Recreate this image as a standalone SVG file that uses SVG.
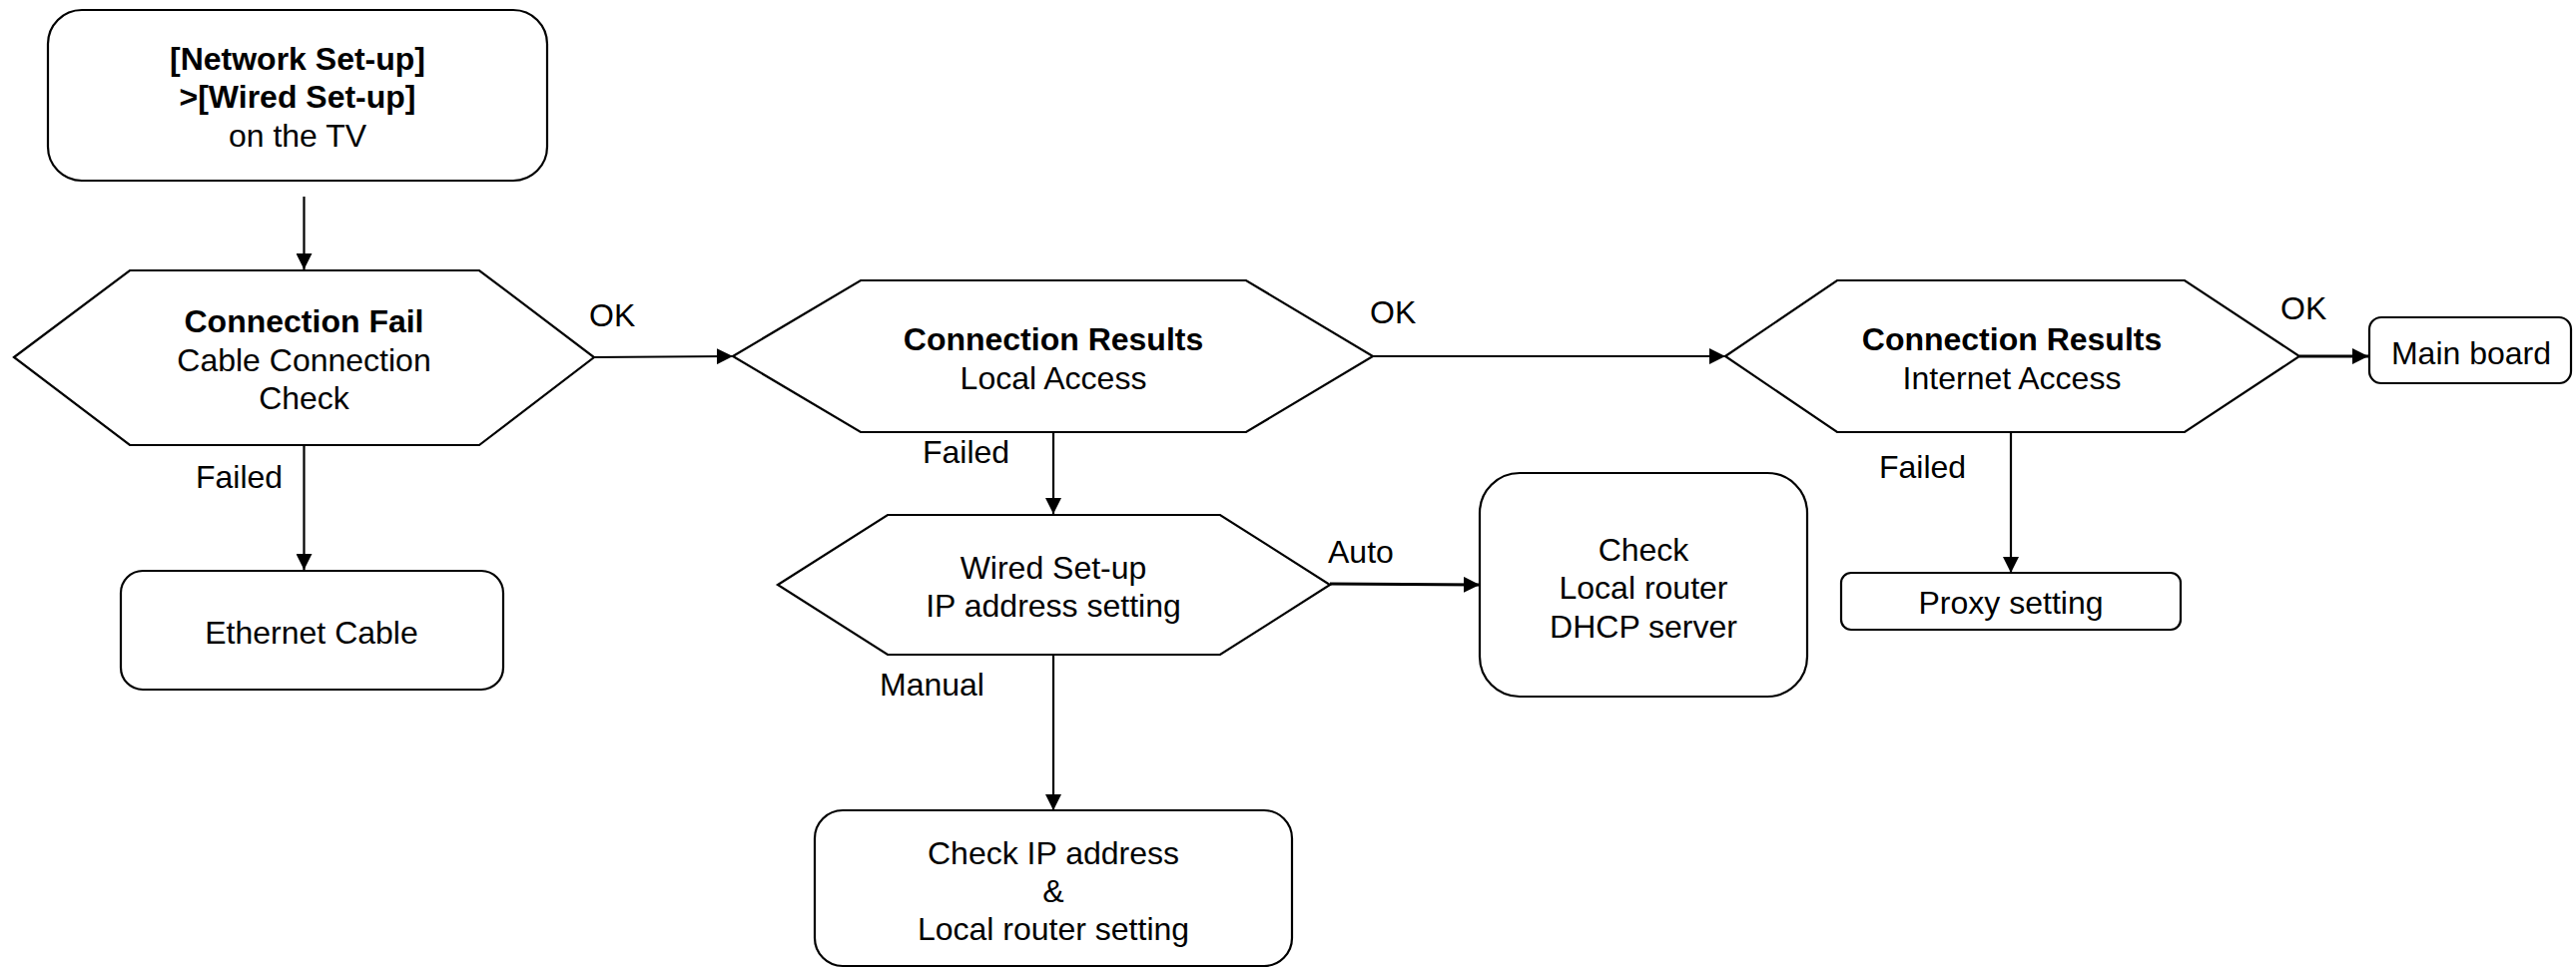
<svg xmlns="http://www.w3.org/2000/svg" width="2580" height="970" viewBox="0 0 2580 970">
<style>
.shape{fill:#fff;stroke:#000;stroke-width:2.2}
.t{font-family:"Liberation Sans",Arial,sans-serif;font-size:32px;fill:#000}
.c{text-anchor:middle}
.b{font-weight:bold}
.ln{stroke:#000;stroke-width:2.2;fill:none}
.thick{stroke-width:3}
</style>
<defs>
<marker id="ah" viewBox="0 0 16 16" refX="16" refY="8" markerWidth="16" markerHeight="16" markerUnits="userSpaceOnUse" orient="auto">
<path d="M0,0 L16,8 L0,16 Z" fill="#000"/>
</marker>
</defs>
<rect width="2580" height="970" fill="#fff"/>
<g id="connectors">
<line class="ln" x1="304.5" y1="197" x2="304.5" y2="270" marker-end="url(#ah)"/>
<line class="ln" x1="304.5" y1="446" x2="304.5" y2="571" marker-end="url(#ah)"/>
<line class="ln" x1="595" y1="358" x2="734" y2="357" marker-end="url(#ah)"/>
<line class="ln" x1="1055" y1="433" x2="1055" y2="515" marker-end="url(#ah)"/>
<line class="ln" x1="1375" y1="357" x2="1728" y2="357" marker-end="url(#ah)"/>
<line class="ln thick" x1="1332" y1="585" x2="1482" y2="586" marker-end="url(#ah)"/>
<line class="ln" x1="1055" y1="656" x2="1055" y2="812" marker-end="url(#ah)"/>
<line class="ln thick" x1="2303" y1="357" x2="2372" y2="357" marker-end="url(#ah)"/>
<line class="ln" x1="2014" y1="433" x2="2014" y2="574" marker-end="url(#ah)"/>
<text class="t" x="590" y="326.5">OK</text>
<text class="t" x="1372" y="323.5">OK</text>
<text class="t" x="2284" y="319.5">OK</text>
<text class="t" x="196" y="488.5">Failed</text>
<text class="t" x="924" y="463.5">Failed</text>
<text class="t" x="1882" y="478.5">Failed</text>
<text class="t" x="1330" y="563.5">Auto</text>
<text class="t" x="881" y="696.5">Manual</text>
</g>
<g id="start">
<rect class="shape" x="48" y="10" width="500" height="171" rx="34" ry="34"/>
<text class="t c b" x="298" y="69.5">[Network Set-up]</text>
<text class="t c b" x="298" y="107.5">&gt;[Wired Set-up]</text>
<text class="t c" x="298" y="146.5">on the TV</text>
</g>
<g id="conn-fail">
<polygon class="shape" points="14,358 130,271 480,271 595,358 480,446 130,446"/>
<text class="t c b" x="304.5" y="332.5">Connection Fail</text>
<text class="t c" x="304.5" y="371.5">Cable Connection</text>
<text class="t c" x="304.5" y="409.5">Check</text>
</g>
<g id="ethernet">
<rect class="shape" x="121" y="572" width="383" height="119" rx="22" ry="22"/>
<text class="t c" x="312" y="644.5">Ethernet Cable</text>
</g>
<g id="local-access">
<polygon class="shape" points="734,357 862,281 1248,281 1375,357 1248,433 862,433"/>
<text class="t c b" x="1055" y="350.5">Connection Results</text>
<text class="t c" x="1055" y="389.5">Local Access</text>
</g>
<g id="ip-setting">
<polygon class="shape" points="779,586 889,516 1222,516 1332,586 1222,656 889,656"/>
<text class="t c" x="1055" y="579.5">Wired Set-up</text>
<text class="t c" x="1055" y="617.5">IP address setting</text>
</g>
<g id="dhcp">
<rect class="shape" x="1482" y="474" width="328" height="224" rx="40" ry="40"/>
<text class="t c" x="1646" y="561.5">Check</text>
<text class="t c" x="1646" y="599.5">Local router</text>
<text class="t c" x="1646" y="638.5">DHCP server</text>
</g>
<g id="check-ip">
<rect class="shape" x="816" y="812" width="478" height="156" rx="28" ry="28"/>
<text class="t c" x="1055" y="865.5">Check IP address</text>
<text class="t c" x="1055" y="903.5">&amp;</text>
<text class="t c" x="1055" y="941.5">Local router setting</text>
</g>
<g id="internet-access">
<polygon class="shape" points="1728,357 1840,281 2188,281 2303,357 2188,433 1840,433"/>
<text class="t c b" x="2015" y="350.5">Connection Results</text>
<text class="t c" x="2015" y="389.5">Internet Access</text>
</g>
<g id="main-board">
<rect class="shape" x="2373" y="318" width="202" height="66" rx="12" ry="12"/>
<text class="t c" x="2475" y="364.5">Main board</text>
</g>
<g id="proxy">
<rect class="shape" x="1844" y="574" width="340" height="57" rx="10" ry="10"/>
<text class="t c" x="2014" y="614.5">Proxy setting</text>
</g>
</svg>
